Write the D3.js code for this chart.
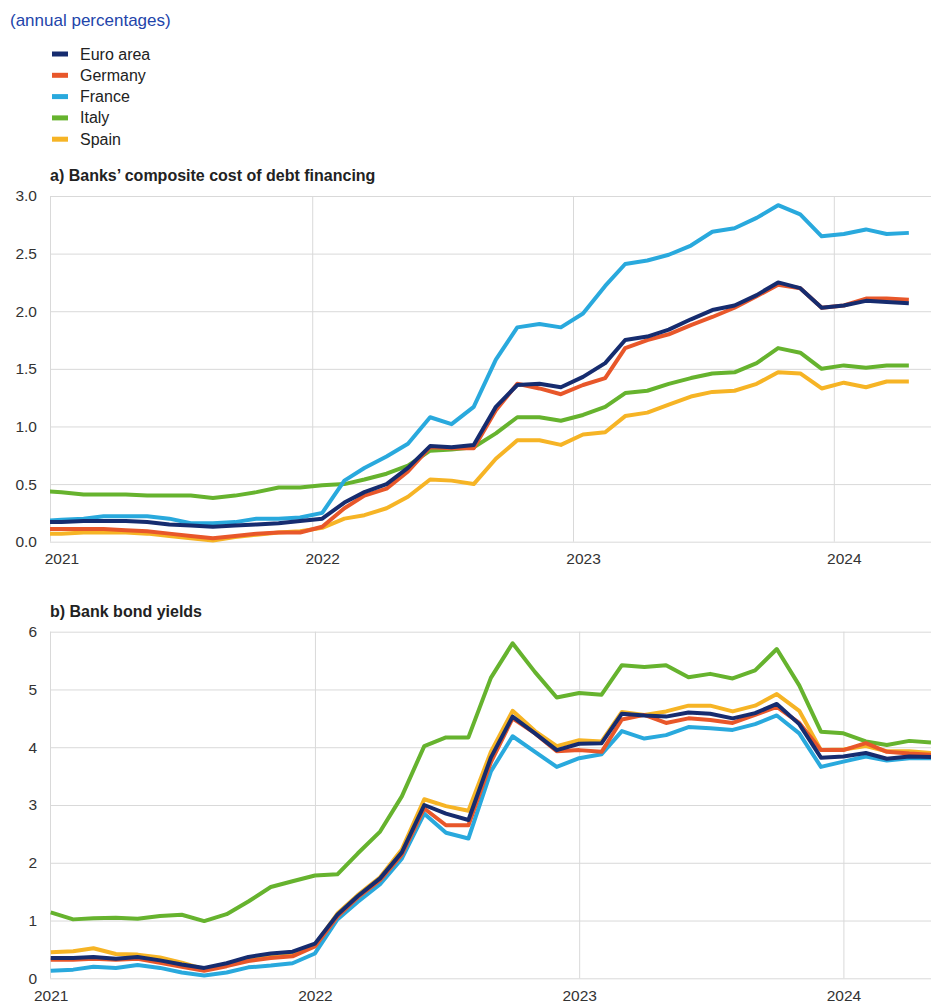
<!DOCTYPE html>
<html>
<head>
<meta charset="utf-8">
<script src="https://cdn.jsdelivr.net/npm/d3@7"></script>
<style>
  html, body { margin: 0; padding: 0; background: #fff; }
  svg { display: block; font-family: "Liberation Sans", Arial, sans-serif; }
</style>
</head>
<body>
<svg id="chart" width="931" height="1003"></svg>
<script>
// ---------- DATA ----------
const seriesNames = ["Euro area", "Germany", "France", "Italy", "Spain"];
const seriesColors = ["#162c6f", "#e8572a", "#29a9dd", "#66b32e", "#f6b425"];
const yearLabels = ["2021", "2022", "2023", "2024"];

// Panel a: monthly (mid-month), Dec 2020 .. Apr 2024
const costEuroArea = [0.17,0.17,0.18,0.18,0.18,0.17,0.15,0.14,0.13,0.14,0.15,0.16,0.18,
  0.20,0.34,0.43,0.50,0.64,0.83,0.82,0.84,1.17,1.36,1.37,1.34,
  1.43,1.55,1.75,1.78,1.84,1.93,2.01,2.05,2.14,2.25,2.20,2.03,
  2.05,2.09,2.08,2.07];
const costGermany = [0.11,0.11,0.11,0.11,0.10,0.09,0.07,0.05,0.03,0.05,0.07,0.08,0.08,
  0.13,0.29,0.40,0.46,0.61,0.82,0.81,0.81,1.14,1.37,1.33,1.28,
  1.36,1.42,1.68,1.75,1.80,1.88,1.95,2.03,2.13,2.23,2.20,2.03,
  2.05,2.11,2.11,2.10];
const costFrance = [0.18,0.19,0.20,0.22,0.22,0.22,0.20,0.16,0.16,0.17,0.20,0.20,0.21,
  0.25,0.53,0.64,0.74,0.85,1.08,1.02,1.17,1.58,1.86,1.89,1.86,
  1.98,2.22,2.41,2.44,2.49,2.57,2.69,2.72,2.81,2.92,2.84,2.65,
  2.67,2.71,2.67,2.68];
const costItaly = [0.44,0.43,0.41,0.41,0.41,0.40,0.40,0.40,0.38,0.40,0.43,0.47,0.47,
  0.49,0.50,0.54,0.59,0.66,0.79,0.80,0.82,0.94,1.08,1.08,1.05,
  1.10,1.17,1.29,1.31,1.37,1.42,1.46,1.47,1.55,1.68,1.64,1.50,
  1.53,1.51,1.53,1.53];
const costSpain = [0.07,0.07,0.08,0.08,0.08,0.07,0.05,0.03,0.01,0.04,0.06,0.08,0.09,
  0.12,0.20,0.23,0.29,0.39,0.54,0.53,0.50,0.72,0.88,0.88,0.84,
  0.93,0.95,1.09,1.12,1.19,1.26,1.30,1.31,1.37,1.47,1.46,1.33,
  1.38,1.34,1.39,1.39];
const costTicks = [0, 0.5, 1.0, 1.5, 2.0, 2.5, 3.0];

// Panel b: monthly (start of month), Jan 2021 .. May 2024
const yieldEuroArea = [0.35,0.35,0.37,0.34,0.37,0.31,0.24,0.18,0.26,0.37,0.43,0.46,
  0.60,1.10,1.42,1.73,2.18,3.00,2.85,2.74,3.82,4.53,4.24,3.95,
  4.06,4.07,4.58,4.55,4.53,4.60,4.58,4.50,4.59,4.75,4.40,3.82,
  3.84,3.90,3.80,3.84,3.83];
const yieldGermany = [0.32,0.32,0.34,0.32,0.34,0.27,0.20,0.13,0.21,0.30,0.35,0.38,
  0.55,1.07,1.40,1.70,2.14,2.94,2.65,2.65,3.74,4.50,4.24,3.93,
  3.95,3.92,4.48,4.56,4.42,4.50,4.47,4.42,4.56,4.70,4.42,3.95,
  3.95,4.07,3.92,3.89,3.87];
const yieldFrance = [0.13,0.15,0.20,0.18,0.23,0.18,0.10,0.05,0.10,0.19,0.22,0.26,
  0.43,1.02,1.32,1.63,2.07,2.85,2.52,2.42,3.58,4.19,3.92,3.66,
  3.81,3.88,4.28,4.15,4.21,4.35,4.33,4.30,4.40,4.55,4.24,3.66,
  3.75,3.84,3.77,3.81,3.81];
const yieldItaly = [1.14,1.02,1.04,1.05,1.03,1.08,1.10,0.99,1.11,1.33,1.58,1.68,
  1.78,1.80,2.16,2.54,3.15,4.02,4.17,4.17,5.20,5.80,5.30,4.86,
  4.94,4.91,5.42,5.39,5.42,5.21,5.27,5.19,5.33,5.70,5.07,4.27,
  4.24,4.10,4.04,4.11,4.08];
const yieldSpain = [0.45,0.47,0.52,0.42,0.41,0.36,0.27,0.16,0.22,0.32,0.37,0.40,
  0.58,1.12,1.44,1.75,2.23,3.10,2.98,2.90,3.92,4.63,4.28,4.02,
  4.12,4.10,4.61,4.56,4.62,4.72,4.72,4.62,4.72,4.92,4.63,3.95,
  3.96,4.02,3.93,3.93,3.90];
const yieldTicks = [0, 1, 2, 3, 4, 5, 6];

// ---------- DRAW ----------
const svg = d3.select("#chart");
const gridColor = "#d9d9d9";
const textColor = "#333";

svg.append("text").attr("x", 10).attr("y", 26)
  .attr("font-size", 17).attr("fill", "#2244aa")
  .text("(annual percentages)");

// legend
const legend = svg.append("g");
seriesNames.forEach((name, i) => {
  const cy = 54 + i * 21.3;
  legend.append("rect").attr("x", 52).attr("y", cy - 2.5).attr("width", 16).attr("height", 5)
    .attr("fill", seriesColors[i]);
  legend.append("text").attr("x", 80).attr("y", cy + 5.5)
    .attr("font-size", 16).attr("fill", "#222").text(name);
});

function panel(opts) {
  const { left, right, top, bottom, xDomain, dates, series, yMax, ticks, fmt,
          labelDates, title, titleY, clipId } = opts;
  const x = d3.scaleUtc().domain(xDomain).range([left, right]);
  const y = d3.scaleLinear().domain([0, yMax]).range([bottom, top]);
  const g = svg.append("g");

  // horizontal gridlines + y labels
  const yAxis = g.append("g").attr("transform", `translate(${left},0)`)
    .call(d3.axisLeft(y).tickValues(ticks).tickFormat(fmt)
      .tickSizeInner(-(right - left)).tickSizeOuter(0).tickPadding(13));
  yAxis.select(".domain").remove();
  yAxis.selectAll("line").attr("stroke", gridColor);
  yAxis.selectAll("text").attr("font-size", 15.5).attr("fill", textColor)
    .attr("font-family", "Liberation Sans, Arial, sans-serif");

  // vertical gridlines at year boundaries
  const yearStarts = [2022, 2023, 2024].map(yr => new Date(Date.UTC(yr, 0, 1)));
  const vGrid = g.append("g").attr("transform", `translate(0,${bottom})`)
    .call(d3.axisBottom(x).tickValues(yearStarts).tickFormat("")
      .tickSizeInner(-(bottom - top)).tickSizeOuter(0));
  vGrid.select(".domain").remove();
  vGrid.selectAll("line").attr("stroke", gridColor);

  // left axis line
  g.append("line").attr("x1", left + 0.5).attr("x2", left + 0.5)
    .attr("y1", top).attr("y2", bottom).attr("stroke", gridColor);

  // x labels
  const xLab = g.append("g").attr("transform", `translate(0,${bottom})`)
    .call(d3.axisBottom(x).tickValues(labelDates).tickFormat((d, i) => yearLabels[i])
      .tickSize(0).tickPadding(11.5));
  xLab.select(".domain").remove();
  xLab.selectAll("text").attr("font-size", 15.5).attr("fill", textColor)
    .attr("font-family", "Liberation Sans, Arial, sans-serif");

  // clip
  svg.append("clipPath").attr("id", clipId).append("rect")
    .attr("x", left).attr("y", top - 10).attr("width", right - left).attr("height", bottom - top + 20);

  const line = d3.line().x((d, i) => x(dates[i])).y(d => y(d));
  const order = [3, 4, 2, 1, 0];
  const lines = g.append("g").attr("clip-path", `url(#${clipId})`);
  order.forEach(k => {
    lines.append("path").datum(series[k])
      .attr("d", line)
      .attr("fill", "none")
      .attr("stroke", seriesColors[k])
      .attr("stroke-width", 4)
      .attr("stroke-linejoin", "round")
      .attr("stroke-linecap", "butt");
  });

  svg.append("text").attr("x", left).attr("y", titleY)
    .attr("font-size", 16).attr("font-weight", "bold").attr("fill", "#222")
    .text(title);
}

const datesA = costEuroArea.map((_, i) => new Date(Date.UTC(2020, 11 + i, 15)));
panel({
  left: 50, right: 931, top: 196, bottom: 541.7,
  xDomain: [new Date(Date.UTC(2020, 11, 30)), new Date(Date.UTC(2024, 4, 16))],
  dates: datesA,
  series: [costEuroArea, costGermany, costFrance, costItaly, costSpain],
  yMax: 3, ticks: costTicks, fmt: d3.format(".1f"),
  labelDates: [2021, 2022, 2023, 2024].map(yr => new Date(Date.UTC(yr, 0, 15))),
  title: "a) Banks\u2019 composite cost of debt financing", titleY: 181, clipId: "clipA"
});

const datesB = yieldEuroArea.map((_, i) => new Date(Date.UTC(2021, i, 1)));
panel({
  left: 50, right: 931, top: 631.7, bottom: 978.3,
  xDomain: [new Date(Date.UTC(2020, 11, 31)), new Date(Date.UTC(2024, 4, 1))],
  dates: datesB,
  series: [yieldEuroArea, yieldGermany, yieldFrance, yieldItaly, yieldSpain],
  yMax: 6, ticks: yieldTicks, fmt: d3.format("d"),
  labelDates: [2021, 2022, 2023, 2024].map(yr => new Date(Date.UTC(yr, 0, 1))),
  title: "b) Bank bond yields", titleY: 617, clipId: "clipB"
});
</script>
</body>
</html>
